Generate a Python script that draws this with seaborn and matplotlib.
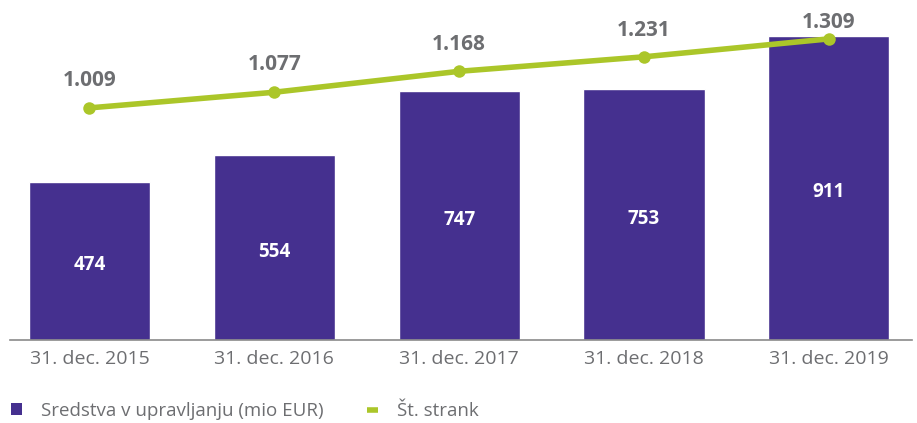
import pandas as pd
import numpy as np
import seaborn as sns
import matplotlib.pyplot as plt
from matplotlib.lines import Line2D
from matplotlib.patches import Patch

# data
dates = ['31. dec. 2015', '31. dec. 2016', '31. dec. 2017', '31. dec. 2018', '31. dec. 2019']
assets = [474, 554, 747, 753, 911]
clients = [1009, 1077, 1168, 1231, 1309]
client_labels = ['1.009', '1.077', '1.168', '1.231', '1.309']
label_offsets = [20, 20, 19, 19, 12]  # points above the marker

purple = '#45308f'
green = '#abc629'
grey = '#6d6e71'

df = pd.DataFrame({'date': dates, 'assets': assets, 'clients': clients})

sns.set_theme(style='white')
plt.rcParams['font.family'] = ['Open Sans', 'DejaVu Sans']

fig = plt.figure(figsize=(9.17, 4.23), dpi=100)
ax = fig.add_axes([10/917, 83/423, 902/917, 340/423])

sns.barplot(data=df, x='date', y='assets', color=purple, width=0.655,
            saturation=1, ax=ax)
ax.bar_label(ax.containers[0], label_type='center', color='white',
             fontsize=13.5, fontweight='bold', padding=-3)
ax.set_ylim(0, 1019)
ax.set_xlim(-0.43, 4.45)
ax.set_xlabel('')
ax.set_ylabel('')
ax.set_yticks([])
for s in ['top', 'left', 'right']:
    ax.spines[s].set_visible(False)
ax.spines['bottom'].set_color('#8a8a8a')
ax.spines['bottom'].set_linewidth(1.2)
ax.tick_params(axis='x', length=0, pad=7, labelsize=14, labelcolor=grey)

# line on secondary axis
ax2 = ax.twinx()
pos = np.arange(len(dates))
sns.lineplot(x=pos, y=clients, color=green, linewidth=4, marker='o',
             markersize=9, markeredgewidth=0, ax=ax2)
ax2.set_ylim(0, 1478)
ax2.set_yticks([])
ax2.set_ylabel('')
for s in ['top', 'left', 'right', 'bottom']:
    ax2.spines[s].set_visible(False)
for x, y, t, off in zip(pos, clients, client_labels, label_offsets):
    ax2.annotate(t, (x, y), xytext=(0, off), textcoords='offset points',
                 ha='center', va='center', fontsize=15, fontweight='bold',
                 color=grey)

handles = [Patch(facecolor=purple, edgecolor='none'),
           Line2D([0], [0], color=green, linewidth=4, solid_capstyle='butt')]
fig.legend(handles, ['Sredstva v upravljanju (mio EUR)', 'Št. strank'],
           loc='center left', bbox_to_anchor=(11/917, 1 - 411/423), ncol=2,
           frameon=False, fontsize=13.5, labelcolor=grey,
           handlelength=0.6, handleheight=0.6, borderpad=0, borderaxespad=0,
           columnspacing=2.3, handletextpad=1.0)

plt.savefig('out.png', dpi=100)
